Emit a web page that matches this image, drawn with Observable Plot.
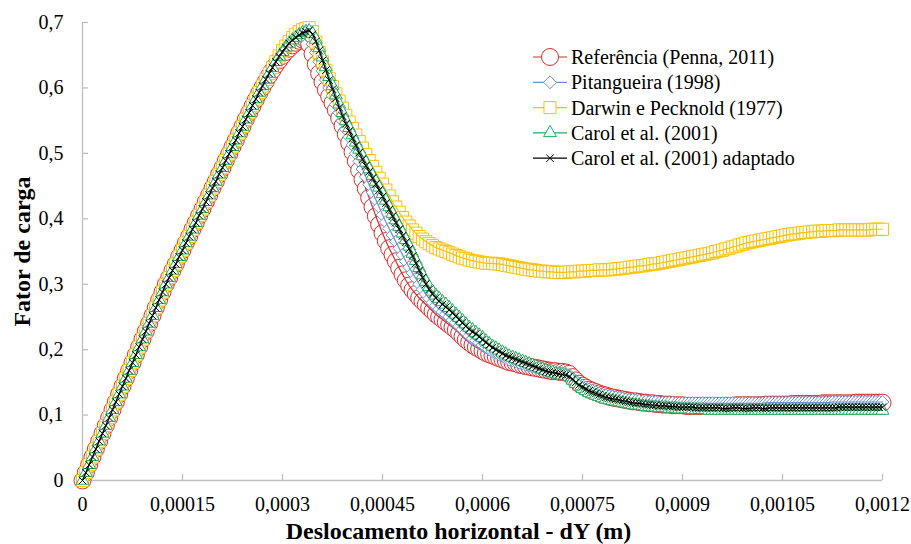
<!DOCTYPE html>
<html>
<head>
<meta charset="utf-8">
<script src="https://cdn.jsdelivr.net/npm/d3@7"></script>
<script src="https://cdn.jsdelivr.net/npm/@observablehq/plot@0.6"></script>
<style>
  html, body { margin: 0; padding: 0; background: #ffffff; }
  #chart { width: 911px; height: 544px; }
</style>
</head>
<body>
<div id="chart"></div>
<script>
// Horizontal displacement dY (m), shared by all five analyses
const dY = [
  0, 5e-6, 10e-6, 15e-6, 20e-6, 25e-6, 30e-6, 35e-6, 40e-6, 45e-6,
  50e-6, 55e-6, 60e-6, 65e-6, 70e-6, 75e-6, 80e-6, 85e-6, 90e-6, 95e-6,
  100e-6, 105e-6, 110e-6, 115e-6, 120e-6, 125e-6, 130e-6, 135e-6, 140e-6, 145e-6,
  150e-6, 155e-6, 160e-6, 165e-6, 170e-6, 175e-6, 180e-6, 185e-6, 190e-6, 195e-6,
  200e-6, 205e-6, 210e-6, 215e-6, 220e-6, 225e-6, 230e-6, 235e-6, 240e-6, 245e-6,
  250e-6, 255e-6, 260e-6, 265e-6, 270e-6, 275e-6, 280e-6, 285e-6, 290e-6, 295e-6,
  300e-6, 305e-6, 310e-6, 315e-6, 320e-6, 325e-6, 330e-6, 335e-6, 340e-6, 345e-6,
  350e-6, 355e-6, 360e-6, 365e-6, 370e-6, 375e-6, 380e-6, 385e-6, 390e-6, 395e-6,
  400e-6, 405e-6, 410e-6, 415e-6, 420e-6, 425e-6, 430e-6, 435e-6, 440e-6, 445e-6,
  450e-6, 455e-6, 460e-6, 465e-6, 470e-6, 475e-6, 480e-6, 485e-6, 490e-6, 495e-6,
  500e-6, 505e-6, 510e-6, 515e-6, 520e-6, 525e-6, 530e-6, 535e-6, 540e-6, 545e-6,
  550e-6, 555e-6, 560e-6, 565e-6, 570e-6, 575e-6, 580e-6, 585e-6, 590e-6, 595e-6,
  600e-6, 605e-6, 610e-6, 615e-6, 620e-6, 625e-6, 630e-6, 635e-6, 640e-6, 645e-6,
  650e-6, 655e-6, 660e-6, 665e-6, 670e-6, 675e-6, 680e-6, 685e-6, 690e-6, 695e-6,
  700e-6, 705e-6, 710e-6, 715e-6, 720e-6, 725e-6, 730e-6, 735e-6, 740e-6, 745e-6,
  750e-6, 755e-6, 760e-6, 765e-6, 770e-6, 775e-6, 780e-6, 785e-6, 790e-6, 795e-6,
  800e-6, 805e-6, 810e-6, 815e-6, 820e-6, 825e-6, 830e-6, 835e-6, 840e-6, 845e-6,
  850e-6, 855e-6, 860e-6, 865e-6, 870e-6, 875e-6, 880e-6, 885e-6, 890e-6, 895e-6,
  900e-6, 905e-6, 910e-6, 915e-6, 920e-6, 925e-6, 930e-6, 935e-6, 940e-6, 945e-6,
  950e-6, 955e-6, 960e-6, 965e-6, 970e-6, 975e-6, 980e-6, 985e-6, 990e-6, 995e-6,
  1000e-6, 1005e-6, 1010e-6, 1015e-6, 1020e-6, 1025e-6, 1030e-6, 1035e-6, 1040e-6, 1045e-6,
  1050e-6, 1055e-6, 1060e-6, 1065e-6, 1070e-6, 1075e-6, 1080e-6, 1085e-6, 1090e-6, 1095e-6,
  1100e-6, 1105e-6, 1110e-6, 1115e-6, 1120e-6, 1125e-6, 1130e-6, 1135e-6, 1140e-6, 1145e-6,
  1150e-6, 1155e-6, 1160e-6, 1165e-6, 1170e-6, 1175e-6, 1180e-6, 1185e-6, 1190e-6, 1195e-6,
  1200e-6
];

// Load factor — Referência (Penna, 2011)
const referencia = [
  0.000, 0.012, 0.024, 0.036, 0.048, 0.060, 0.072, 0.084, 0.096, 0.108,
  0.120, 0.132, 0.144, 0.156, 0.168, 0.180, 0.192, 0.204, 0.216, 0.228,
  0.240, 0.252, 0.264, 0.276, 0.288, 0.300, 0.310, 0.321, 0.331, 0.342,
  0.352, 0.363, 0.373, 0.384, 0.394, 0.405, 0.415, 0.426, 0.436, 0.447,
  0.457, 0.468, 0.478, 0.489, 0.499, 0.510, 0.520, 0.531, 0.541, 0.552,
  0.562, 0.572, 0.582, 0.592, 0.601, 0.610, 0.619, 0.627, 0.635, 0.642,
  0.649, 0.655, 0.660, 0.665, 0.669, 0.672, 0.674, 0.674, 0.667, 0.652,
  0.636, 0.622, 0.609, 0.597, 0.587, 0.577, 0.566, 0.554, 0.542, 0.529,
  0.516, 0.502, 0.488, 0.474, 0.460, 0.446, 0.432, 0.418, 0.404, 0.391,
  0.378, 0.366, 0.355, 0.345, 0.335, 0.325, 0.315, 0.306, 0.298, 0.291,
  0.285, 0.279, 0.274, 0.269, 0.264, 0.259, 0.254, 0.250, 0.246, 0.242,
  0.238, 0.234, 0.230, 0.225, 0.220, 0.215, 0.211, 0.207, 0.204, 0.201,
  0.198, 0.195, 0.193, 0.191, 0.189, 0.187, 0.185, 0.183, 0.181, 0.180,
  0.179, 0.177, 0.176, 0.175, 0.174, 0.173, 0.172, 0.171, 0.170, 0.169,
  0.168, 0.167, 0.167, 0.166, 0.166, 0.165, 0.163, 0.158, 0.153, 0.148,
  0.145, 0.142, 0.139, 0.137, 0.135, 0.133, 0.131, 0.130, 0.128, 0.127,
  0.126, 0.125, 0.124, 0.123, 0.122, 0.121, 0.121, 0.120, 0.119, 0.119,
  0.118, 0.118, 0.117, 0.117, 0.116, 0.116, 0.116, 0.115, 0.115, 0.115,
  0.115, 0.114, 0.114, 0.114, 0.114, 0.114, 0.114, 0.114, 0.114, 0.114,
  0.114, 0.114, 0.114, 0.114, 0.114, 0.114, 0.115, 0.115, 0.115, 0.115,
  0.115, 0.115, 0.115, 0.115, 0.115, 0.116, 0.116, 0.116, 0.116, 0.116,
  0.116, 0.116, 0.116, 0.117, 0.117, 0.117, 0.117, 0.117, 0.117, 0.117,
  0.117, 0.117, 0.118, 0.118, 0.118, 0.118, 0.118, 0.118, 0.118, 0.118,
  0.118, 0.118, 0.119, 0.119, 0.119, 0.119, 0.119, 0.119, 0.119, 0.119,
  0.119
];

// Load factor — Pitangueira (1998)
const pitangueira = [
  0.000, 0.012, 0.024, 0.036, 0.048, 0.060, 0.072, 0.084, 0.096, 0.108,
  0.120, 0.132, 0.144, 0.156, 0.168, 0.180, 0.192, 0.204, 0.216, 0.228,
  0.240, 0.252, 0.264, 0.276, 0.288, 0.300, 0.310, 0.321, 0.331, 0.342,
  0.352, 0.363, 0.373, 0.384, 0.394, 0.405, 0.415, 0.426, 0.436, 0.447,
  0.457, 0.468, 0.478, 0.489, 0.499, 0.510, 0.520, 0.531, 0.541, 0.552,
  0.562, 0.573, 0.583, 0.593, 0.603, 0.613, 0.622, 0.631, 0.640, 0.648,
  0.655, 0.661, 0.667, 0.672, 0.676, 0.679, 0.681, 0.682, 0.678, 0.667,
  0.654, 0.640, 0.626, 0.612, 0.600, 0.588, 0.575, 0.562, 0.550, 0.537,
  0.525, 0.513, 0.500, 0.488, 0.476, 0.464, 0.452, 0.440, 0.429, 0.418,
  0.406, 0.395, 0.385, 0.375, 0.365, 0.355, 0.345, 0.335, 0.326, 0.317,
  0.309, 0.300, 0.292, 0.285, 0.278, 0.272, 0.267, 0.262, 0.258, 0.254,
  0.250, 0.245, 0.241, 0.236, 0.231, 0.226, 0.221, 0.217, 0.214, 0.211,
  0.207, 0.203, 0.200, 0.197, 0.195, 0.192, 0.190, 0.187, 0.185, 0.184,
  0.182, 0.180, 0.179, 0.177, 0.176, 0.174, 0.173, 0.171, 0.170, 0.168,
  0.167, 0.166, 0.165, 0.165, 0.164, 0.163, 0.161, 0.156, 0.152, 0.148,
  0.145, 0.142, 0.139, 0.137, 0.135, 0.133, 0.131, 0.130, 0.129, 0.128,
  0.127, 0.126, 0.125, 0.124, 0.123, 0.123, 0.122, 0.122, 0.121, 0.121,
  0.120, 0.120, 0.120, 0.119, 0.119, 0.119, 0.119, 0.119, 0.118, 0.118,
  0.118, 0.118, 0.118, 0.118, 0.118, 0.118, 0.118, 0.118, 0.118, 0.118,
  0.118, 0.118, 0.118, 0.118, 0.118, 0.118, 0.118, 0.118, 0.118, 0.118,
  0.118, 0.118, 0.118, 0.118, 0.118, 0.119, 0.119, 0.119, 0.119, 0.119,
  0.119, 0.119, 0.119, 0.119, 0.119, 0.119, 0.119, 0.119, 0.119, 0.119,
  0.119, 0.119, 0.119, 0.119, 0.119, 0.120, 0.120, 0.120, 0.120, 0.120,
  0.120, 0.120, 0.120, 0.120, 0.120, 0.120, 0.120, 0.120, 0.120, 0.120,
  0.120
];

// Load factor — Darwin e Pecknold (1977)
const darwinPecknold = [
  0.000, 0.012, 0.024, 0.036, 0.048, 0.060, 0.072, 0.084, 0.096, 0.108,
  0.120, 0.132, 0.144, 0.156, 0.168, 0.180, 0.192, 0.204, 0.216, 0.228,
  0.240, 0.252, 0.264, 0.276, 0.288, 0.300, 0.310, 0.321, 0.331, 0.342,
  0.352, 0.363, 0.373, 0.384, 0.394, 0.405, 0.415, 0.426, 0.436, 0.447,
  0.457, 0.468, 0.478, 0.489, 0.499, 0.510, 0.520, 0.531, 0.541, 0.552,
  0.562, 0.573, 0.583, 0.593, 0.603, 0.613, 0.622, 0.631, 0.640, 0.649,
  0.657, 0.664, 0.671, 0.677, 0.682, 0.686, 0.689, 0.691, 0.692, 0.686,
  0.670, 0.654, 0.640, 0.627, 0.614, 0.602, 0.591, 0.580, 0.569, 0.558,
  0.548, 0.538, 0.528, 0.518, 0.508, 0.498, 0.489, 0.480, 0.471, 0.462,
  0.453, 0.444, 0.435, 0.426, 0.418, 0.410, 0.402, 0.395, 0.389, 0.383,
  0.378, 0.373, 0.369, 0.365, 0.362, 0.359, 0.356, 0.354, 0.352, 0.350,
  0.348, 0.346, 0.344, 0.342, 0.340, 0.339, 0.337, 0.336, 0.335, 0.334,
  0.333, 0.332, 0.332, 0.332, 0.331, 0.331, 0.330, 0.329, 0.328, 0.327,
  0.326, 0.325, 0.324, 0.323, 0.322, 0.322, 0.321, 0.320, 0.320, 0.319,
  0.319, 0.319, 0.318, 0.318, 0.318, 0.318, 0.319, 0.319, 0.319, 0.320,
  0.320, 0.320, 0.321, 0.321, 0.321, 0.322, 0.322, 0.322, 0.322, 0.323,
  0.323, 0.324, 0.324, 0.325, 0.326, 0.326, 0.327, 0.328, 0.328, 0.329,
  0.330, 0.331, 0.331, 0.332, 0.333, 0.334, 0.335, 0.336, 0.337, 0.338,
  0.339, 0.340, 0.341, 0.342, 0.343, 0.344, 0.345, 0.346, 0.347, 0.348,
  0.350, 0.351, 0.352, 0.354, 0.355, 0.357, 0.358, 0.360, 0.361, 0.363,
  0.364, 0.365, 0.366, 0.367, 0.368, 0.369, 0.370, 0.371, 0.372, 0.373,
  0.374, 0.375, 0.376, 0.377, 0.377, 0.378, 0.379, 0.379, 0.380, 0.380,
  0.381, 0.381, 0.381, 0.382, 0.382, 0.382, 0.382, 0.383, 0.383, 0.383,
  0.383, 0.383, 0.383, 0.383, 0.383, 0.383, 0.383, 0.384, 0.384, 0.384,
  0.384
];

// Load factor — Carol et al. (2001)
const carol = [
  0.000, 0.012, 0.024, 0.036, 0.048, 0.060, 0.072, 0.084, 0.096, 0.108,
  0.120, 0.132, 0.144, 0.156, 0.168, 0.180, 0.192, 0.204, 0.216, 0.228,
  0.240, 0.252, 0.264, 0.276, 0.288, 0.300, 0.310, 0.321, 0.331, 0.342,
  0.352, 0.363, 0.373, 0.384, 0.394, 0.405, 0.415, 0.426, 0.436, 0.447,
  0.457, 0.468, 0.478, 0.489, 0.499, 0.510, 0.520, 0.531, 0.541, 0.552,
  0.562, 0.573, 0.583, 0.593, 0.603, 0.613, 0.622, 0.631, 0.640, 0.648,
  0.655, 0.662, 0.668, 0.673, 0.677, 0.681, 0.684, 0.686, 0.687, 0.683,
  0.674, 0.661, 0.647, 0.632, 0.617, 0.603, 0.589, 0.575, 0.562, 0.550,
  0.539, 0.528, 0.517, 0.506, 0.496, 0.486, 0.476, 0.466, 0.457, 0.448,
  0.438, 0.428, 0.418, 0.408, 0.398, 0.388, 0.378, 0.368, 0.358, 0.347,
  0.336, 0.325, 0.314, 0.304, 0.296, 0.289, 0.283, 0.278, 0.273, 0.269,
  0.264, 0.259, 0.254, 0.249, 0.244, 0.239, 0.234, 0.230, 0.226, 0.222,
  0.218, 0.213, 0.209, 0.205, 0.202, 0.199, 0.196, 0.193, 0.190, 0.188,
  0.186, 0.184, 0.182, 0.180, 0.178, 0.176, 0.174, 0.172, 0.170, 0.168,
  0.166, 0.165, 0.163, 0.162, 0.161, 0.160, 0.158, 0.153, 0.148, 0.144,
  0.140, 0.137, 0.134, 0.132, 0.130, 0.128, 0.126, 0.124, 0.123, 0.122,
  0.121, 0.120, 0.119, 0.118, 0.117, 0.116, 0.115, 0.115, 0.114, 0.113,
  0.113, 0.112, 0.112, 0.111, 0.111, 0.111, 0.110, 0.110, 0.110, 0.109,
  0.109, 0.109, 0.109, 0.108, 0.108, 0.108, 0.108, 0.108, 0.107, 0.107,
  0.107, 0.107, 0.107, 0.107, 0.107, 0.107, 0.107, 0.107, 0.107, 0.107,
  0.107, 0.107, 0.107, 0.107, 0.107, 0.107, 0.107, 0.107, 0.107, 0.107,
  0.107, 0.107, 0.107, 0.107, 0.107, 0.107, 0.107, 0.107, 0.107, 0.107,
  0.107, 0.107, 0.107, 0.107, 0.107, 0.107, 0.107, 0.107, 0.107, 0.107,
  0.107, 0.107, 0.107, 0.107, 0.107, 0.107, 0.107, 0.107, 0.107, 0.107,
  0.107
];

// Load factor — Carol et al. (2001) adaptado
const carolAdaptado = [
  0.000, 0.012, 0.024, 0.036, 0.048, 0.060, 0.072, 0.084, 0.096, 0.108,
  0.120, 0.132, 0.144, 0.156, 0.168, 0.180, 0.192, 0.204, 0.216, 0.228,
  0.240, 0.252, 0.264, 0.276, 0.288, 0.300, 0.310, 0.321, 0.331, 0.342,
  0.352, 0.363, 0.373, 0.384, 0.394, 0.405, 0.415, 0.426, 0.436, 0.447,
  0.457, 0.468, 0.478, 0.489, 0.499, 0.510, 0.520, 0.531, 0.541, 0.552,
  0.562, 0.573, 0.583, 0.593, 0.603, 0.613, 0.622, 0.631, 0.640, 0.648,
  0.655, 0.662, 0.668, 0.673, 0.677, 0.681, 0.684, 0.686, 0.688, 0.682,
  0.671, 0.657, 0.642, 0.627, 0.612, 0.598, 0.584, 0.570, 0.557, 0.545,
  0.534, 0.523, 0.512, 0.501, 0.491, 0.481, 0.472, 0.462, 0.453, 0.444,
  0.434, 0.424, 0.414, 0.404, 0.394, 0.384, 0.374, 0.364, 0.354, 0.343,
  0.332, 0.321, 0.310, 0.300, 0.292, 0.285, 0.279, 0.274, 0.269, 0.265,
  0.261, 0.256, 0.251, 0.246, 0.241, 0.236, 0.231, 0.227, 0.224, 0.220,
  0.215, 0.211, 0.207, 0.203, 0.200, 0.197, 0.194, 0.191, 0.189, 0.187,
  0.185, 0.183, 0.181, 0.179, 0.177, 0.175, 0.173, 0.171, 0.169, 0.167,
  0.166, 0.165, 0.164, 0.163, 0.162, 0.161, 0.159, 0.155, 0.150, 0.146,
  0.143, 0.140, 0.137, 0.135, 0.133, 0.131, 0.129, 0.127, 0.126, 0.125,
  0.124, 0.123, 0.122, 0.121, 0.120, 0.119, 0.118, 0.118, 0.117, 0.116,
  0.116, 0.115, 0.115, 0.114, 0.114, 0.114, 0.113, 0.113, 0.113, 0.112,
  0.112, 0.112, 0.112, 0.112, 0.111, 0.111, 0.111, 0.111, 0.111, 0.111,
  0.111, 0.111, 0.110, 0.110, 0.110, 0.111, 0.111, 0.111, 0.110, 0.110,
  0.110, 0.111, 0.111, 0.111, 0.110, 0.110, 0.111, 0.111, 0.111, 0.111,
  0.111, 0.111, 0.111, 0.111, 0.111, 0.111, 0.111, 0.111, 0.111, 0.111,
  0.111, 0.111, 0.111, 0.111, 0.111, 0.111, 0.111, 0.112, 0.112, 0.112,
  0.112, 0.112, 0.112, 0.112, 0.112, 0.112, 0.112, 0.112, 0.112, 0.112,
  0.112
];

const seriesNames = [
  "Referência (Penna, 2011)",
  "Pitangueira (1998)",
  "Darwin e Pecknold (1977)",
  "Carol et al. (2001)",
  "Carol et al. (2001) adaptado"
];

const xTickValues = [0, 0.00015, 0.0003, 0.00045, 0.0006, 0.00075, 0.0009, 0.00105, 0.0012];
const xTickLabels = ["0", "0,00015", "0,0003", "0,00045", "0,0006", "0,00075", "0,0009", "0,00105", "0,0012"];
const yTickValues = [0, 0.1, 0.2, 0.3, 0.4, 0.5, 0.6, 0.7];
const yTickLabels = ["0", "0,1", "0,2", "0,3", "0,4", "0,5", "0,6", "0,7"];

const xTitle = "Deslocamento horizontal - dY (m)";
const yTitle = "Fator de carga";

// Styling for each analysis (drawn in this order, last on top)
const series = [
  {name: seriesNames[0], values: referencia,     color: "#dc2a2a", symbol: d3.symbolCircle,   r: 8.5, fill: "white"},
  {name: seriesNames[1], values: pitangueira,    color: "#6b8fd9", symbol: d3.symbolDiamond2, r: 5.8, fill: "white"},
  {name: seriesNames[2], values: darwinPecknold, color: "#ffc000", symbol: d3.symbolSquare,   r: 6.8, fill: "white"},
  {name: seriesNames[3], values: carol,          color: "#21ad5c", symbol: d3.symbolTriangle, r: 4.8, fill: "white"},
  {name: seriesNames[4], values: carolAdaptado,  color: "#000000", symbol: d3.symbolTimes,    r: 3.5, fill: "none"}
];

const axisGray = "#bfbfbf";
const fontFamily = "'Liberation Serif', 'Times New Roman', serif";
const xLabelOf = new Map(xTickValues.map((v, i) => [v, xTickLabels[i]]));
const yLabelOf = new Map(yTickValues.map((v, i) => [v, yTickLabels[i]]));

const seriesMarks = series.flatMap(s => {
  const rows = dY.map((x, i) => ({x, y: s.values[i]}));
  return [
    Plot.dot(rows, {x: "x", y: "y", symbol: s.symbol, r: s.r, fill: s.fill, stroke: s.color, strokeWidth: 1}),
    Plot.line(rows, {x: "x", y: "y", stroke: s.color, strokeWidth: 1.2})
  ];
});

const chart = Plot.plot({
  width: 911,
  height: 544,
  marginLeft: 82,
  marginRight: 29,
  marginTop: 22,
  marginBottom: 64,
  style: {fontFamily, fontSize: "20px", color: "#000", background: "#fff", overflow: "visible"},
  x: {domain: [0, 0.0012]},
  y: {domain: [0, 0.7]},
  marks: [
    // axis lines and inward tick marks
    Plot.ruleY([0], {stroke: axisGray, strokeWidth: 1.3}),
    Plot.ruleX([0], {stroke: axisGray, strokeWidth: 1.3}),
    Plot.tickX(xTickValues, {x: d => d, stroke: axisGray, strokeWidth: 1.3, insetTop: 452}),
    Plot.tickY(yTickValues, {y: d => d, stroke: axisGray, strokeWidth: 1.3, insetRight: 794}),
    // tick labels
    Plot.axisX({ticks: xTickValues, tickFormat: d => xLabelOf.get(d), tickSize: 0, tickPadding: 16, label: null, fontSize: 20}),
    Plot.axisY({ticks: yTickValues, tickFormat: d => yLabelOf.get(d), tickSize: 0, tickPadding: 19, label: null, fontSize: 20}),
    // axis titles
    Plot.text([xTitle], {text: d => d, frameAnchor: "bottom", lineAnchor: "middle", textAnchor: "middle", dx: -24, dy: 51, fontSize: 24, fontWeight: "bold"}),
    Plot.text([yTitle], {text: d => d, frameAnchor: "left", lineAnchor: "middle", textAnchor: "middle", dx: -60, rotate: -90, fontSize: 24, fontWeight: "bold"}),
    ...seriesMarks
  ]
});

document.getElementById("chart").appendChild(chart);

// Legend in the upper right corner of the plot area
const legend = d3.select(chart).append("g")
  .attr("font-family", fontFamily)
  .attr("font-size", 20)
  .attr("text-anchor", "start")
  .attr("fill", "#000");

series.forEach((s, i) => {
  const y = 57 + i * 25.3;
  legend.append("line")
    .attr("x1", 533).attr("x2", 567).attr("y1", y).attr("y2", y)
    .attr("stroke", s.color).attr("stroke-width", 1.2);
  legend.append("path")
    .attr("transform", `translate(550,${y})`)
    .attr("d", d3.symbol(s.symbol, Math.PI * s.r * s.r)())
    .attr("fill", s.fill).attr("stroke", s.color).attr("stroke-width", 1);
  legend.append("text")
    .attr("x", 571).attr("y", y).attr("dy", "0.35em")
    .text(s.name);
});
</script>
</body>
</html>
